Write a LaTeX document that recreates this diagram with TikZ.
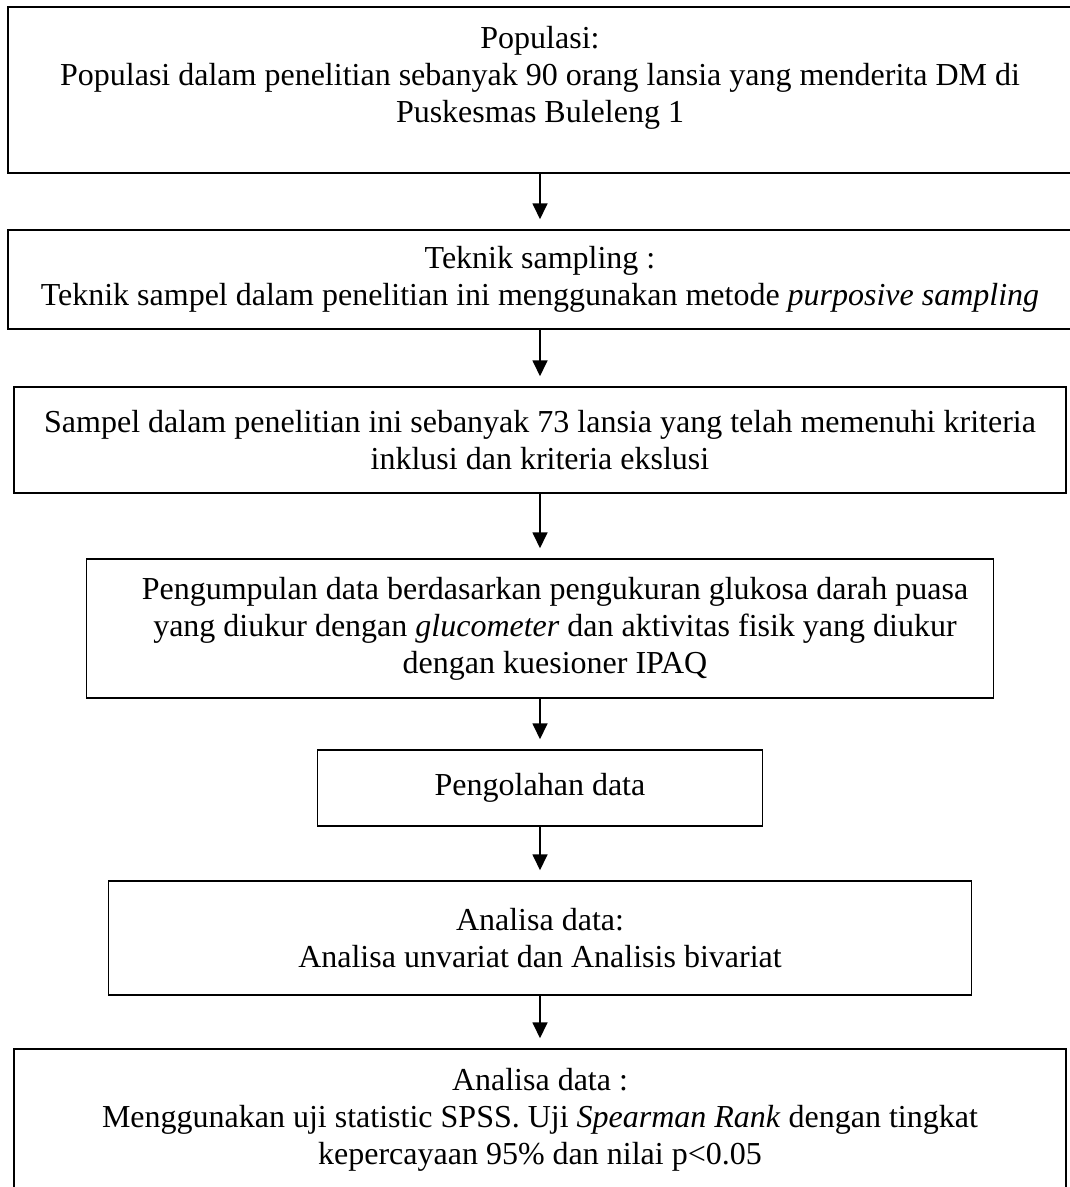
\documentclass[tikz,border=0pt]{standalone}
\usepackage{fontspec}
\setmainfont{Liberation Serif}
\usetikzlibrary{arrows.meta}

\begin{document}
\begin{tikzpicture}[x=0.4pt, y=-0.4pt, >={Triangle[length=6.4pt,width=6pt]},
    kotak/.style={draw, line width=0.6pt, align=center, inner sep=0pt, font=\fontsize{12.8}{14.8}\selectfont},
    panah/.style={->, line width=0.7pt, shorten >=4pt}]
    \useasboundingbox (0, 0) rectangle (1069, 1187);
    \node[kotak, minimum width=425.6pt, minimum height=66.4pt] (pop) at (540, 90) {Populasi:\\ Populasi dalam penelitian sebanyak 90 orang lansia yang menderita DM di\\ Puskesmas Buleleng 1\\[-2pt]\mbox{}};
    \node[kotak, minimum width=425.6pt, minimum height=39.6pt] (teknik) at (540, 279.5) {Teknik sampling :\\ Teknik sampel dalam penelitian ini menggunakan metode \textit{purposive sampling}};
    \node[kotak, minimum width=420.8pt, minimum height=42.4pt] (sampel) at (540, 440) {Sampel dalam penelitian ini sebanyak 73 lansia yang telah memenuhi kriteria\\ inklusi dan kriteria ekslusi};
    \node[kotak, minimum width=362.8pt, minimum height=55.6pt] (kumpul) at (540, 628.5) {\hspace*{12pt}Pengumpulan data berdasarkan pengukuran glukosa darah puasa\\ \hspace*{12pt}yang diukur dengan \textit{glucometer} dan aktivitas fisik yang diukur\\ \hspace*{12pt}dengan kuesioner IPAQ};
    \node[kotak, minimum width=178pt, minimum height=30.4pt] (olah) at (540, 788) {Pengolahan data};
    \node[kotak, minimum width=345.2pt, minimum height=45.6pt] (analisa) at (540, 938) {Analisa data:\\ Analisa unvariat dan Analisis bivariat};
    \node[kotak, minimum width=420.8pt, minimum height=56.4pt] (uji) at (540, 1119.5) {Analisa data :\\ Menggunakan uji statistic SPSS. Uji \textit{Spearman Rank} dengan tingkat\\ kepercayaan 95\% dan nilai p<0.05};
    \draw[panah] (pop.south) -- (teknik.north);
    \draw[panah] (teknik.south) -- (sampel.north);
    \draw[panah] (sampel.south) -- (kumpul.north);
    \draw[panah] (kumpul.south) -- (olah.north);
    \draw[panah] (olah.south) -- (analisa.north);
    \draw[panah] (analisa.south) -- (uji.north);
\end{tikzpicture}
\end{document}
